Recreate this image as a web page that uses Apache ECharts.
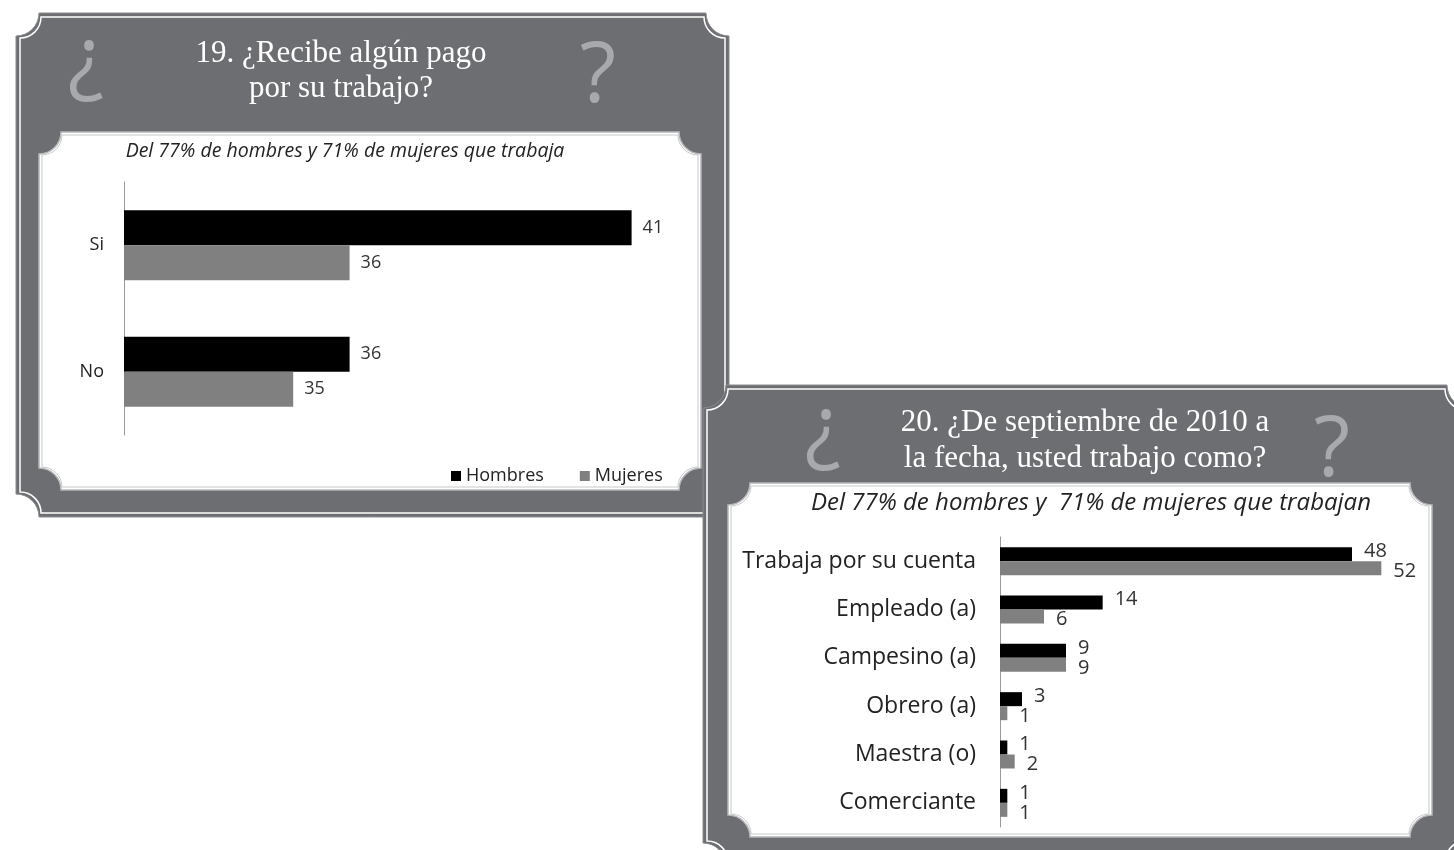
<!DOCTYPE html>
<html>
<head>
<meta charset="utf-8">
<script src="https://cdn.jsdelivr.net/npm/echarts@6/dist/echarts.min.js"></script>
<style>
html,body{margin:0;padding:0;background:#fff;}
#c{width:1454px;height:850px;}
</style>
</head>
<body>
<div id="c"></div>
<script>
// ---- data ----
const categories1 = ['Si', 'No'];
const hombres1 = [41, 36];
const mujeres1 = [36, 35];

const categories2 = ['Trabaja por su cuenta', 'Empleado (a)', 'Campesino (a)', 'Obrero (a)', 'Maestra (o)', 'Comerciante'];
const hombres2 = [48, 14, 9, 3, 1, 1];
const mujeres2 = [52, 6, 9, 1, 2, 1];

const seriesNames = ['Hombres', 'Mujeres'];
const title1 = ['19. ¿Recibe algún pago', 'por su trabajo?'];
const title2 = ['20. ¿De septiembre de 2010 a', 'la fecha, usted trabajo como?'];
const subtitle1 = 'Del 77% de hombres y 71% de mujeres que trabaja';
const subtitle2 = 'Del 77% de hombres y  71% de mujeres que trabajan';

// ---- frame shape (rectangle with concave corners) ----
const ConcaveRect = echarts.graphic.extendShape({
  type: 'concaveRect',
  shape: {x0: 0, y0: 0, x1: 0, y1: 0, r: 0},
  buildPath: function (ctx, s) {
    const x0 = s.x0, y0 = s.y0, x1 = s.x1, y1 = s.y1, r = s.r;
    ctx.moveTo(x0 + r, y0);
    ctx.lineTo(x1 - r, y0);
    ctx.arc(x1, y0, r, Math.PI, Math.PI / 2, true);
    ctx.lineTo(x1, y1 - r);
    ctx.arc(x1, y1, r, Math.PI * 1.5, Math.PI, true);
    ctx.lineTo(x0 + r, y1);
    ctx.arc(x0, y1, r, Math.PI * 2, Math.PI * 1.5, true);
    ctx.lineTo(x0, y0 + r);
    ctx.arc(x0, y0, r, Math.PI / 2, 0, true);
    ctx.closePath();
  }
});
echarts.graphic.registerShape('concaveRect', ConcaveRect);

const FRAME = '#6d6e71';
const QMARK = '#a7a9ac';
function cr(b, r, style, z) {
  return {type: 'concaveRect', z: z, shape: {x0: b[0], y0: b[1], x1: b[2], y1: b[3], r: r}, style: style};
}
function panel(o, w, z) {
  return [
    cr(o, 23, {fill: FRAME, stroke: '#8a8b8e', lineWidth: 1}, z),
    cr([o[0] + 4, o[1] + 4, o[2] - 4, o[3] - 4], 21, {fill: null, stroke: '#ffffff', lineWidth: 1.5}, z + 1),
    cr(w, 22, {fill: '#ffffff', stroke: '#b5b6b8', lineWidth: 1.5}, z + 2),
    cr([w[0] + 3, w[1] + 3, w[2] - 3, w[3] - 3], 20, {fill: null, stroke: '#c8c9cb', lineWidth: 1}, z + 3)
  ];
}
function txt(x, y, s, font, color) {
  return {type: 'text', z: 50, x: x, y: y, style: {text: s, font: font, fill: color, align: 'center', verticalAlign: 'middle'}};
}

const serif = '"Liberation Serif", "DejaVu Serif", serif';
const sans = '"Open Sans", Lato, sans-serif';

const graphics = []
  .concat(panel([16, 13, 729, 517], [39, 132, 701, 490], -20))
  .concat(panel([703, 385, 1470, 866], [728, 483, 1432, 837], -10))
  .concat([
    txt(86, 62, '¿', '84px ' + sans, QMARK),
    txt(598, 78, '?', '84px ' + sans, QMARK),
    txt(341, 54, title1[0], '31px ' + serif, '#ffffff'),
    txt(341, 89, title1[1], '31px ' + serif, '#ffffff'),
    txt(345, 151, subtitle1, 'italic 19.5px ' + sans, '#222222'),
    txt(823, 431, '¿', '84px ' + sans, QMARK),
    txt(1332, 452, '?', '84px ' + sans, QMARK),
    txt(1085, 423, title2[0], '31px ' + serif, '#ffffff'),
    txt(1085, 459, title2[1], '31px ' + serif, '#ffffff'),
    txt(1091, 503, subtitle2, 'italic 24px ' + sans, '#222222')
  ]);

const labelStyle = {show: true, position: 'right', color: '#333', fontFamily: sans};

const option = {
  animation: false,
  backgroundColor: '#ffffff',
  graphic: {elements: graphics},
  legend: {
    data: seriesNames,
    left: 446, top: 462,
    icon: 'rect', itemWidth: 10, itemHeight: 10, itemGap: 36,
    textStyle: {fontSize: 18, color: '#222', fontFamily: sans}
  },
  grid: [
    {left: 124, top: 182, width: 564, height: 253, containLabel: false},
    {left: 1000, top: 537, width: 440, height: 290, containLabel: false}
  ],
  xAxis: [
    {gridIndex: 0, type: 'value', min: 32, max: 42, show: false},
    {gridIndex: 1, type: 'value', min: 0, max: 60, show: false}
  ],
  yAxis: [
    {gridIndex: 0, type: 'category', data: categories1, inverse: true,
     axisLine: {lineStyle: {color: '#9a9a9a', width: 1}},
     axisTick: {length: 5, lineStyle: {color: '#9a9a9a'}},
     axisLabel: {fontSize: 18, color: '#222', margin: 20, fontFamily: sans}},
    {gridIndex: 1, type: 'category', data: categories2, inverse: true,
     axisLine: {lineStyle: {color: '#9a9a9a', width: 1}},
     axisTick: {length: 5, lineStyle: {color: '#9a9a9a'}},
     axisLabel: {fontSize: 23, color: '#222', margin: 24, fontFamily: sans}}
  ],
  series: [
    {name: seriesNames[0], type: 'bar', xAxisIndex: 0, yAxisIndex: 0, data: hombres1, barWidth: 35, barGap: '0%',
     itemStyle: {color: '#000000'}, label: Object.assign({}, labelStyle, {fontSize: 18, distance: 11})},
    {name: seriesNames[1], type: 'bar', xAxisIndex: 0, yAxisIndex: 0, data: mujeres1, barWidth: 35, barGap: '0%',
     itemStyle: {color: '#808080'}, label: Object.assign({}, labelStyle, {fontSize: 18, distance: 11})},
    {name: seriesNames[0], type: 'bar', xAxisIndex: 1, yAxisIndex: 1, data: hombres2, barWidth: 14, barGap: '0%',
     itemStyle: {color: '#000000'}, label: Object.assign({}, labelStyle, {fontSize: 20, distance: 12, offset: [0, -3]})},
    {name: seriesNames[1], type: 'bar', xAxisIndex: 1, yAxisIndex: 1, data: mujeres2, barWidth: 14, barGap: '0%',
     itemStyle: {color: '#808080'}, label: Object.assign({}, labelStyle, {fontSize: 20, distance: 12, offset: [0, 3]})}
  ]
};

const chart = echarts.init(document.getElementById('c'), null, {renderer: 'canvas'});
chart.setOption(option);
</script>
</body>
</html>
